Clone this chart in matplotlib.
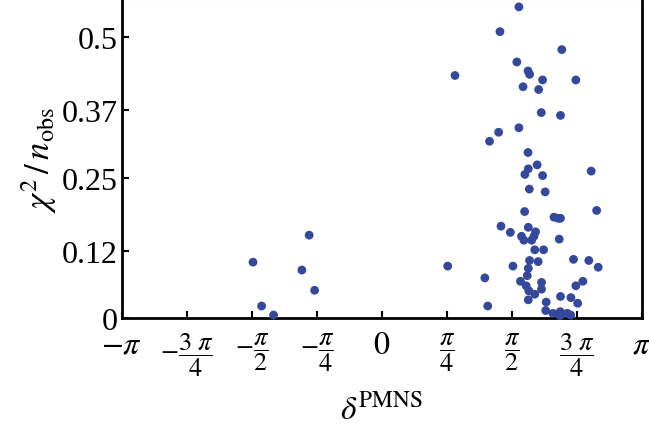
import numpy as np
import matplotlib
matplotlib.use("Agg")
import matplotlib.pyplot as plt

# delta^PMNS in units of pi, and chi^2 / n_obs
delta_over_pi = [-0.496, -0.280, -0.308, -0.259, -0.463, -0.417,
                 0.527, 0.454, 0.692, 0.519, 0.562, 0.568, 0.281, 0.618, 0.746, 0.543,
                 0.603, 0.613, 0.687, 0.527, 0.449, 0.414, 0.562,
                 0.597, 0.563, 0.550, 0.618, 0.805, 0.567, 0.628, 0.549, 0.826,
                 0.662, 0.678, 0.687, 0.458, 0.494, 0.563, 0.591, 0.537, 0.546,
                 0.585, 0.576, 0.682, 0.588, 0.622, 0.568, 0.601, 0.737, 0.796,
                 0.832, 0.253, 0.504, 0.563, 0.396, 0.559, 0.533, 0.555, 0.565,
                 0.614, 0.614, 0.773, 0.746, 0.588, 0.563, 0.687, 0.727, 0.753,
                 0.407, 0.632, 0.630, 0.658, 0.686, 0.713, 0.726, 0.685]
chi2_nobs = [0.100, 0.148, 0.086, 0.050, 0.022, 0.006,
             0.554, 0.510, 0.478, 0.456, 0.440, 0.434, 0.432, 0.424, 0.424, 0.412,
             0.407, 0.366, 0.361, 0.339, 0.331, 0.315, 0.295,
             0.273, 0.266, 0.256, 0.254, 0.262, 0.230, 0.225, 0.190, 0.192,
             0.180, 0.178, 0.178, 0.164, 0.153, 0.162, 0.154, 0.146, 0.139,
             0.146, 0.139, 0.141, 0.122, 0.122, 0.103, 0.101, 0.105, 0.103,
             0.091, 0.093, 0.093, 0.089, 0.072, 0.076, 0.066, 0.058, 0.049,
             0.064, 0.052, 0.066, 0.058, 0.043, 0.033, 0.039, 0.037, 0.027,
             0.022, 0.029, 0.014, 0.009, 0.012, 0.009, 0.006, 0.005]

x_ticks_over_pi = [-1, -0.75, -0.5, -0.25, 0, 0.25, 0.5, 0.75, 1]
x_tick_labels = [r'$-\pi$', r'$-\dfrac{3\ \pi}{4}$', r'$-\dfrac{\pi}{2}$', r'$-\dfrac{\pi}{4}$',
                 r'$0$', r'$\dfrac{\pi}{4}$', r'$\dfrac{\pi}{2}$', r'$\dfrac{3\ \pi}{4}$', r'$\pi$']
y_ticks = [0, 0.12, 0.25, 0.37, 0.5]
y_tick_labels = ['0', '0.12', '0.25', '0.37', '0.5']

plt.rcParams['mathtext.fontset'] = 'stix'
plt.rcParams['font.family'] = ['Liberation Serif', 'DejaVu Serif']

fig = plt.figure(figsize=(6.49, 4.27), dpi=100)
ax = fig.add_axes([0.188, 0.252, 0.801, 0.748])

x = np.array(delta_over_pi) * np.pi
ax.scatter(x, chi2_nobs, s=40, color='#34499c', edgecolors='none', zorder=3, clip_on=False)

ax.set_xlim(-np.pi, np.pi)
ax.set_ylim(0, 0.568)
ax.set_xticks(np.array(x_ticks_over_pi) * np.pi)
ax.set_xticklabels(x_tick_labels, fontsize=23)
for lbl in ax.get_xticklabels():
    if 'frac' in lbl.get_text():
        lbl.set_fontsize(19)
ax.set_yticks(y_ticks)
ax.set_yticklabels(y_tick_labels, fontsize=23)
ax.tick_params(direction='in', length=5, width=1.5, top=False, right=False)
ax.tick_params(axis='x', pad=9)
ax.tick_params(axis='y', pad=3)

for side in ['left', 'bottom', 'right']:
    ax.spines[side].set_linewidth(2)
    ax.spines[side].set_color('black')
ax.spines['top'].set_color('#bbbbbb')
ax.spines['top'].set_linewidth(1.5)

ax.set_xlabel(r'$\delta^{\mathrm{PMNS}}$', fontsize=24)
ax.xaxis.set_label_coords(0.5, -0.285)
ax.xaxis.label.set_verticalalignment('center')
ax.set_ylabel(r'$\chi^2\,/\,n_{\mathrm{obs}}$', fontsize=25, labelpad=2)

fig.savefig('out.png', dpi=100)
